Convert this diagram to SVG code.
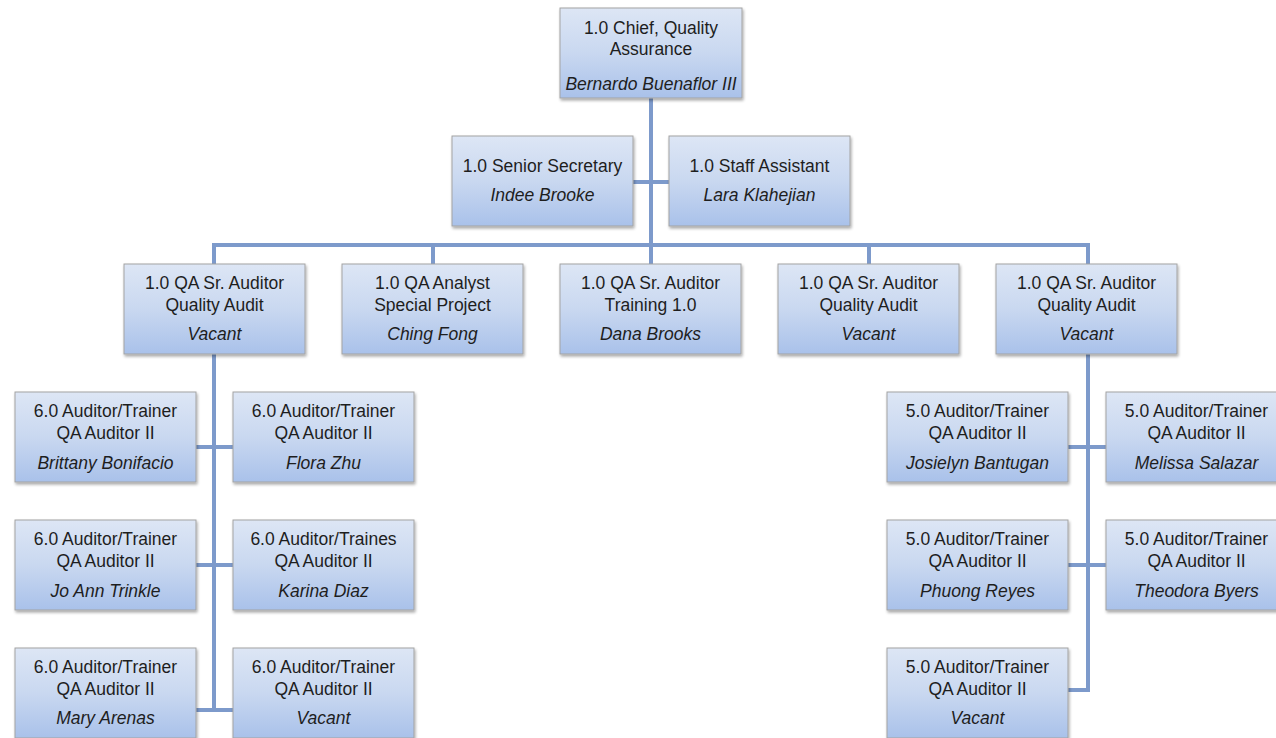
<svg xmlns="http://www.w3.org/2000/svg" width="1276" height="738" viewBox="0 0 1276 738">
<defs>
<linearGradient id="g" x1="0" y1="0" x2="0" y2="1">
<stop offset="0" stop-color="#dde6f5"/>
<stop offset="0.5" stop-color="#c9d8f0"/>
<stop offset="1" stop-color="#a9c1ea"/>
</linearGradient>
<filter id="sh" x="-10%" y="-10%" width="125%" height="130%">
<feGaussianBlur in="SourceAlpha" stdDeviation="1.5"/>
<feOffset dx="1" dy="2" result="o"/>
<feComponentTransfer><feFuncA type="linear" slope="0.35"/></feComponentTransfer>
<feMerge><feMergeNode/><feMergeNode in="SourceGraphic"/></feMerge>
</filter>
</defs>
<style>
.box{fill:url(#g);stroke:#a3a3a3;stroke-width:1;filter:url(#sh)}
text{font-family:"Liberation Sans",Arial,sans-serif;font-size:17.5px;fill:#1e1e1e;text-anchor:middle}
.n{font-style:italic}
.c{stroke:#7d9acb;stroke-width:4;fill:none}
</style>
<rect width="1276" height="738" fill="#ffffff"/>
<g id="connectors">
<path class="c" d="M651 98V264M633 182H669M214 245H1088M214 243V264M433 243V264M869 243V264M1088 243V264"/>
<path class="c" d="M214 354V712M196 447H233M196 565H233M196 710H233"/>
<path class="c" d="M1088 354V690H1068M1068 447H1106M1068 565H1106"/>
</g>
<g id="chief"><rect class="box" x="560" y="8" width="182" height="90"/><text x="651" y="34">1.0 Chief, Quality</text><text x="651" y="55">Assurance</text><text class="n" x="651" y="90">Bernardo Buenaflor III</text></g>
<g id="secretary"><rect class="box" x="452" y="136" width="181" height="90"/><text x="542.5" y="172">1.0 Senior Secretary</text><text class="n" x="542.5" y="201">Indee Brooke</text></g>
<g id="staff"><rect class="box" x="669" y="136" width="181" height="90"/><text x="759.5" y="172">1.0 Staff Assistant</text><text class="n" x="759.5" y="201">Lara Klahejian</text></g>
<g id="sr1"><rect class="box" x="124" y="264" width="181" height="90"/><text x="214.5" y="289">1.0 QA Sr. Auditor</text><text x="214.5" y="311">Quality Audit</text><text class="n" x="214.5" y="340">Vacant</text></g>
<g id="analyst"><rect class="box" x="342" y="264" width="181" height="90"/><text x="432.5" y="289">1.0 QA Analyst</text><text x="432.5" y="311">Special Project</text><text class="n" x="432.5" y="340">Ching Fong</text></g>
<g id="sr2"><rect class="box" x="560" y="264" width="181" height="90"/><text x="650.5" y="289">1.0 QA Sr. Auditor</text><text x="650.5" y="311">Training 1.0</text><text class="n" x="650.5" y="340">Dana Brooks</text></g>
<g id="sr3"><rect class="box" x="778" y="264" width="181" height="90"/><text x="868.5" y="289">1.0 QA Sr. Auditor</text><text x="868.5" y="311">Quality Audit</text><text class="n" x="868.5" y="340">Vacant</text></g>
<g id="sr4"><rect class="box" x="996" y="264" width="181" height="90"/><text x="1086.5" y="289">1.0 QA Sr. Auditor</text><text x="1086.5" y="311">Quality Audit</text><text class="n" x="1086.5" y="340">Vacant</text></g>
<g id="l1"><rect class="box" x="15" y="392" width="181" height="90"/><text x="105.5" y="417">6.0 Auditor/Trainer</text><text x="105.5" y="439">QA Auditor II</text><text class="n" x="105.5" y="469">Brittany Bonifacio</text></g>
<g id="l2"><rect class="box" x="233" y="392" width="181" height="90"/><text x="323.5" y="417">6.0 Auditor/Trainer</text><text x="323.5" y="439">QA Auditor II</text><text class="n" x="323.5" y="469">Flora Zhu</text></g>
<g id="l3"><rect class="box" x="15" y="520" width="181" height="90"/><text x="105.5" y="545">6.0 Auditor/Trainer</text><text x="105.5" y="567">QA Auditor II</text><text class="n" x="105.5" y="597">Jo Ann Trinkle</text></g>
<g id="l4"><rect class="box" x="233" y="520" width="181" height="90"/><text x="323.5" y="545">6.0 Auditor/Traines</text><text x="323.5" y="567">QA Auditor II</text><text class="n" x="323.5" y="597">Karina Diaz</text></g>
<g id="l5"><rect class="box" x="15" y="648" width="181" height="90"/><text x="105.5" y="673">6.0 Auditor/Trainer</text><text x="105.5" y="695">QA Auditor II</text><text class="n" x="105.5" y="724">Mary Arenas</text></g>
<g id="l6"><rect class="box" x="233" y="648" width="181" height="90"/><text x="323.5" y="673">6.0 Auditor/Trainer</text><text x="323.5" y="695">QA Auditor II</text><text class="n" x="323.5" y="724">Vacant</text></g>
<g id="r1"><rect class="box" x="887" y="392" width="181" height="90"/><text x="977.5" y="417">5.0 Auditor/Trainer</text><text x="977.5" y="439">QA Auditor II</text><text class="n" x="977.5" y="469">Josielyn Bantugan</text></g>
<g id="r2"><rect class="box" x="1106" y="392" width="181" height="90"/><text x="1196.5" y="417">5.0 Auditor/Trainer</text><text x="1196.5" y="439">QA Auditor II</text><text class="n" x="1196.5" y="469">Melissa Salazar</text></g>
<g id="r3"><rect class="box" x="887" y="520" width="181" height="90"/><text x="977.5" y="545">5.0 Auditor/Trainer</text><text x="977.5" y="567">QA Auditor II</text><text class="n" x="977.5" y="597">Phuong Reyes</text></g>
<g id="r4"><rect class="box" x="1106" y="520" width="181" height="90"/><text x="1196.5" y="545">5.0 Auditor/Trainer</text><text x="1196.5" y="567">QA Auditor II</text><text class="n" x="1196.5" y="597">Theodora Byers</text></g>
<g id="r5"><rect class="box" x="887" y="648" width="181" height="90"/><text x="977.5" y="673">5.0 Auditor/Trainer</text><text x="977.5" y="695">QA Auditor II</text><text class="n" x="977.5" y="724">Vacant</text></g>
</svg>
